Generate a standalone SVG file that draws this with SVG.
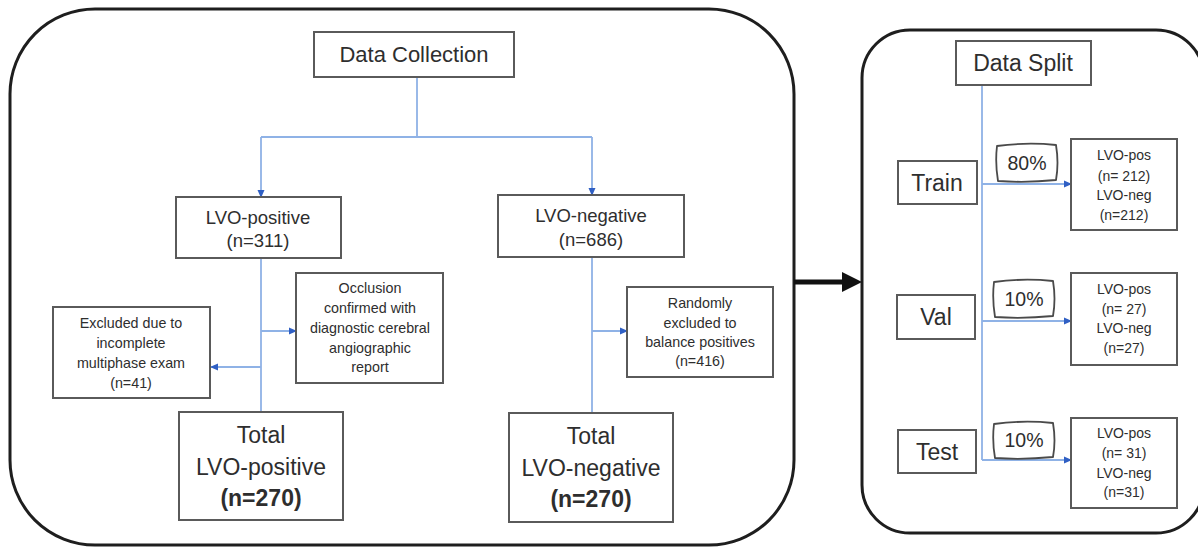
<svg xmlns="http://www.w3.org/2000/svg" width="1198" height="547" viewBox="0 0 1198 547">
<defs>
<style>
.cont{fill:none;stroke:#1e1e1e;stroke-width:3}
.box{fill:#fff;stroke:#5a5a5a;stroke-width:2}
.pct{fill:#fff;stroke:#4a4a4a;stroke-width:1.8;stroke-linejoin:round}
.ln{fill:none;stroke:#8fb2e6;stroke-width:1.8}
text{font-family:"Liberation Sans",Arial,sans-serif;fill:#2e2e2e;text-anchor:middle}
.t20{font-size:22px}
.t22{font-size:23px}
.pc{font-size:19.5px}
.t17{font-size:18.5px}
.t14{font-size:14.3px}
.t13{font-size:14px}
.big{font-size:23px}
.bold{font-weight:bold}
</style>
<marker id="ah" markerWidth="8" markerHeight="8" refX="7" refY="4" orient="auto" markerUnits="userSpaceOnUse">
<path d="M0,0.5 L8,4 L0,7.5 Z" fill="#2f5fc4"/>
</marker>
</defs>
<rect width="1198" height="547" fill="#fff"/>

<g id="containers">
<rect class="cont" x="10" y="9" width="784" height="536" rx="85" ry="85"/>
<rect class="cont" x="862" y="30" width="342" height="503" rx="48" ry="48"/>
</g>

<g id="connectors">
<path class="ln" d="M417,77 V137"/>
<path class="ln" d="M261,137 H592"/>
<path class="ln" d="M261,137 V197" marker-end="url(#ah)"/>
<path class="ln" d="M592,137 V195" marker-end="url(#ah)"/>
<path class="ln" d="M261,258 V412"/>
<path class="ln" d="M261,331 H296" marker-end="url(#ah)"/>
<path class="ln" d="M261,367 H211" marker-end="url(#ah)"/>
<path class="ln" d="M592,257 V413"/>
<path class="ln" d="M592,331 H627" marker-end="url(#ah)"/>
<path class="ln" d="M982,85 V460"/>
<path class="ln" d="M982,184 H1071" marker-end="url(#ah)"/>
<path class="ln" d="M982,321 H1071" marker-end="url(#ah)"/>
<path class="ln" d="M982,460 H1071" marker-end="url(#ah)"/>
<g id="big-arrow">
<path d="M794,282 H845" stroke="#111" stroke-width="5" fill="none"/>
<path d="M842,272 L862,282 L842,292 Z" fill="#111"/>
</g>
</g>

<g id="data-collection">
<rect class="box" x="314" y="32" width="200" height="45"/>
<text class="t20" x="414" y="62">Data Collection</text>
</g>

<g id="lvo-positive">
<rect class="box" x="176" y="197" width="165" height="61"/>
<text class="t17" x="258" y="224">LVO-positive</text>
<text class="t17" x="258" y="247">(n=311)</text>
</g>

<g id="lvo-negative">
<rect class="box" x="498" y="195" width="186" height="62"/>
<text class="t17" x="591" y="222">LVO-negative</text>
<text class="t17" x="591" y="246">(n=686)</text>
</g>

<g id="occlusion">
<rect class="box" x="296" y="273" width="147" height="110"/>
<text class="t14" x="370" y="293">Occlusion</text>
<text class="t14" x="370" y="313">confirmed with</text>
<text class="t14" x="370" y="333">diagnostic cerebral</text>
<text class="t14" x="370" y="353">angiographic</text>
<text class="t14" x="370" y="372">report</text>
</g>

<g id="excluded">
<rect class="box" x="53" y="307" width="157" height="91"/>
<text class="t14" x="131" y="328">Excluded due to</text>
<text class="t14" x="131" y="348">incomplete</text>
<text class="t14" x="131" y="368">multiphase exam</text>
<text class="t14" x="131" y="388">(n=41)</text>
</g>

<g id="randomly">
<rect class="box" x="627" y="287" width="146" height="90"/>
<text class="t14" x="700" y="308">Randomly</text>
<text class="t14" x="700" y="328">excluded to</text>
<text class="t14" x="700" y="347">balance positives</text>
<text class="t14" x="700" y="366">(n=416)</text>
</g>

<g id="total-positive">
<rect class="box" x="179" y="412" width="164" height="108"/>
<text class="big" x="261" y="443">Total</text>
<text class="big" x="261" y="475">LVO-positive</text>
<text class="big bold" x="261" y="506">(n=270)</text>
</g>

<g id="total-negative">
<rect class="box" x="509" y="413" width="164" height="109"/>
<text class="big" x="591" y="444">Total</text>
<text class="big" x="591" y="476">LVO-negative</text>
<text class="big bold" x="591" y="507">(n=270)</text>
</g>

<g id="data-split">
<rect class="box" x="956" y="41" width="135" height="44"/>
<text class="t22" x="1023" y="71">Data Split</text>
</g>

<g id="train">
<rect class="box" x="898" y="161" width="79" height="43"/>
<text class="t22" x="937" y="191">Train</text>
</g>

<g id="val">
<rect class="box" x="897" y="295" width="78" height="44"/>
<text class="t22" x="936" y="325">Val</text>
</g>

<g id="test">
<rect class="box" x="898" y="430" width="78" height="43"/>
<text class="t22" x="937" y="460">Test</text>
</g>

<g id="pct-80">
<path class="pct" d="M997,146 Q1027,142 1056,145 Q1059,163 1056,180 Q1027,183 998,181 Q995,163 997,146 Z"/>
<text class="pc" x="1027" y="170">80%</text>
</g>

<g id="pct-10a">
<path class="pct" d="M994,282 Q1023,278 1053,281 Q1056,299 1053,316 Q1023,319 995,317 Q992,299 994,282 Z"/>
<text class="pc" x="1024" y="306">10%</text>
</g>

<g id="pct-10b">
<path class="pct" d="M994,424 Q1023,420 1053,423 Q1056,441 1053,457 Q1023,460 995,458 Q992,441 994,424 Z"/>
<text class="pc" x="1024" y="447">10%</text>
</g>

<g id="split-train">
<rect class="box" x="1071" y="139" width="106" height="91"/>
<text class="t13" x="1124" y="160">LVO-pos</text>
<text class="t13" x="1124" y="181">(n= 212)</text>
<text class="t13" x="1124" y="200">LVO-neg</text>
<text class="t13" x="1124" y="220">(n=212)</text>
</g>

<g id="split-val">
<rect class="box" x="1071" y="273" width="106" height="92"/>
<text class="t13" x="1124" y="294">LVO-pos</text>
<text class="t13" x="1124" y="314">(n= 27)</text>
<text class="t13" x="1124" y="333">LVO-neg</text>
<text class="t13" x="1124" y="353">(n=27)</text>
</g>

<g id="split-test">
<rect class="box" x="1071" y="418" width="106" height="90"/>
<text class="t13" x="1124" y="438">LVO-pos</text>
<text class="t13" x="1124" y="458">(n= 31)</text>
<text class="t13" x="1124" y="478">LVO-neg</text>
<text class="t13" x="1124" y="497">(n=31)</text>
</g>
</svg>
